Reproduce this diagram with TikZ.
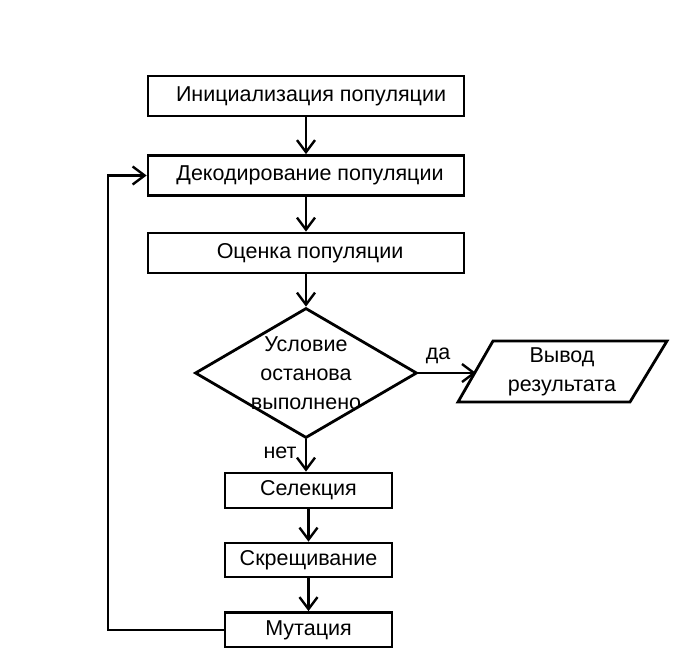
\documentclass[tikz,border=0pt]{standalone}
\usepackage{fontspec}
\setmainfont{Liberation Sans}
\usetikzlibrary{arrows.meta,shapes.geometric}
\begin{document}
\begin{tikzpicture}[x=1pt,y=-1pt,
  font=\fontsize{21.5}{29}\selectfont,
  line width=2.8pt,
  block/.style={draw, rectangle, inner sep=0pt, line width=2.8pt},
  arr/.style={-{Straight Barb[length=12pt,width=18pt,line width=2.4pt]}, line width=2.8pt},
  lbl/.style={inner sep=0pt}]
\useasboundingbox (0,0) rectangle (694,648);
\node[block, minimum width=316pt, minimum height=40pt] (init) at (306,96) {\hspace*{10pt}Инициализация популяции};
\node[block, minimum width=316pt, minimum height=40pt] (dec) at (306,175.5) {\hspace*{8pt}Декодирование популяции};
\node[block, minimum width=316pt, minimum height=40pt] (eval) at (306,253) {\hspace*{8pt}Оценка популяции};
\node[draw, diamond, inner sep=0pt, minimum width=222pt, minimum height=130pt, line width=2.8pt] (cond) at (306,373) {};
\node[lbl, align=center] (condtxt) at (306,373) {Условие\\останова\\выполнено};
\draw[line width=2.8pt] (493,341) -- (667,341) -- (630,402) -- (458,402) -- cycle;
\node[lbl, align=center, minimum width=150pt, minimum height=55pt] (out) at (562,372) {Вывод\\результата};
\coordinate (outin) at (476,373);
\node[block, minimum width=167pt, minimum height=35pt] (sel) at (308.5,490.5) {Селекция};
\node[block, minimum width=167pt, minimum height=34pt] (cross) at (308.5,560) {Скрещивание};
\node[block, minimum width=167pt, minimum height=35pt] (mut) at (308.5,630) {Мутация};
\draw[arr] (init) -- (dec);
\draw[arr] (dec) -- (eval);
\draw[arr] (eval.south) -- (cond.north);
\draw[arr] (cond.east) -- (outin);
\node[lbl] (yes) at (438,356) {да};
\draw[arr] (cond.south) -- (cond.south |- sel.north);
\node[lbl] (no) at (280,453) {нет};
\draw[arr] (sel) -- (cross);
\draw[arr] (cross) -- (mut);
\coordinate (fb) at (108,630);
\draw[arr] (mut.west) -- (fb) -- (fb |- dec.west) -- (dec.west);
\end{tikzpicture}
\end{document}
